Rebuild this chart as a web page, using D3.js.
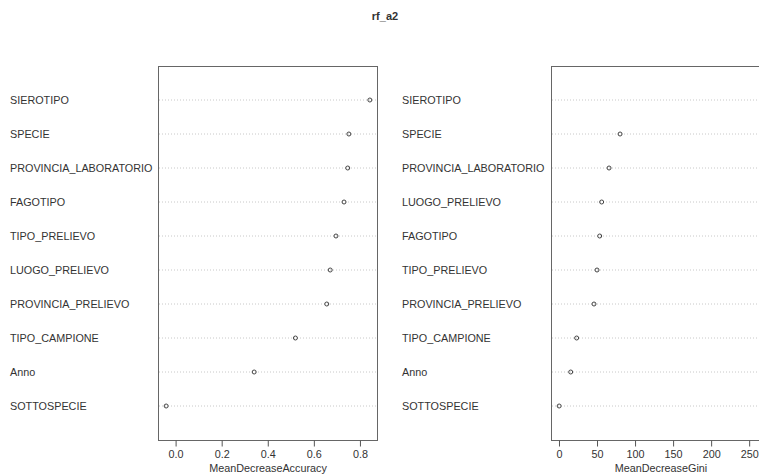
<!DOCTYPE html>
<html>
<head>
<meta charset="utf-8">
<script src="https://cdn.jsdelivr.net/npm/d3@7"></script>
<style>
  html, body { margin: 0; padding: 0; background: #fff; }
  svg { display: block; }
  text { font-family: "Liberation Sans", Arial, sans-serif; fill: #333; }
</style>
</head>
<body>
<svg id="chart" width="759" height="474"></svg>
<script>
// Variable importance from the random forest model rf_a2
const accuracyVars = ["SIEROTIPO", "SPECIE", "PROVINCIA_LABORATORIO", "FAGOTIPO", "TIPO_PRELIEVO",
  "LUOGO_PRELIEVO", "PROVINCIA_PRELIEVO", "TIPO_CAMPIONE", "Anno", "SOTTOSPECIE"];
const accuracyValues = [0.843, 0.752, 0.747, 0.731, 0.696, 0.671, 0.656, 0.520, 0.341, -0.041];

const giniVars = ["SIEROTIPO", "SPECIE", "PROVINCIA_LABORATORIO", "LUOGO_PRELIEVO", "FAGOTIPO",
  "TIPO_PRELIEVO", "PROVINCIA_PRELIEVO", "TIPO_CAMPIONE", "Anno", "SOTTOSPECIE"];
const giniValues = [268, 80.3, 65.8, 56.1, 53.5, 50.0, 46.0, 23.2, 15.4, 0.2];

const accuracyTicks = [0.0, 0.2, 0.4, 0.6, 0.8];
const giniTicks = [0, 50, 100, 150, 200, 250];

const title = "rf_a2";
const fontSize = 10.8;

const svg = d3.select("#chart");

svg.append("text")
  .attr("x", 385).attr("y", 20)
  .attr("text-anchor", "middle")
  .attr("font-size", 11).attr("font-weight", "bold")
  .text(title);

function dotPanel(cfg) {
  const { vars, values, ticks, fmt, axisTitle, labelX, left, right } = cfg;
  const top = 66, bottom = 440;
  const n = vars.length;
  // rows placed as in a dotchart: 1..n inside 0..n+1, first item at the top
  const y = d3.scaleLinear().domain([0, n + 1]).range([bottom, top]);
  const lo = d3.min(values), hi = d3.max(values), pad = (hi - lo) * 0.04;
  const x = d3.scaleLinear().domain([lo - pad, hi + pad]).range([left, right]);

  const g = svg.append("g");

  // dotted guide lines
  g.selectAll("line.guide").data(values).join("line")
    .attr("class", "guide")
    .attr("x1", left + 1).attr("x2", right - 1)
    .attr("y1", (d, i) => y(n - i)).attr("y2", (d, i) => y(n - i))
    .attr("stroke", "#c8c8c8").attr("stroke-width", 1)
    .attr("stroke-dasharray", "1,2");

  // row labels
  g.selectAll("text.lab").data(vars).join("text")
    .attr("class", "lab")
    .attr("x", labelX)
    .attr("y", (d, i) => y(n - i))
    .attr("dy", "0.35em")
    .attr("font-size", fontSize)
    .text(d => d);

  // points
  g.selectAll("circle").data(values).join("circle")
    .attr("cx", d => x(d))
    .attr("cy", (d, i) => y(n - i))
    .attr("r", 2)
    .attr("fill", "none").attr("stroke", "#444").attr("stroke-width", 1);

  // frame
  g.append("rect")
    .attr("x", left + 0.5).attr("y", top + 0.5)
    .attr("width", right - left - 1).attr("height", bottom - top)
    .attr("fill", "none").attr("stroke", "#666").attr("stroke-width", 1);

  // x axis
  const axis = d3.axisBottom(x).tickValues(ticks).tickFormat(fmt).tickSize(6).tickPadding(4);
  const ag = g.append("g").attr("transform", `translate(0,${bottom + 0.5})`).call(axis);
  ag.select(".domain").attr("stroke", "none");
  ag.selectAll(".tick line").attr("stroke", "#555");
  ag.selectAll(".tick text")
    .attr("font-family", "Liberation Sans, Arial, sans-serif")
    .attr("font-size", fontSize).attr("fill", "#333");

  g.append("text")
    .attr("x", (left + right) / 2).attr("y", 472)
    .attr("text-anchor", "middle").attr("font-size", fontSize)
    .text(axisTitle);
}

dotPanel({
  vars: accuracyVars, values: accuracyValues, ticks: accuracyTicks,
  fmt: d3.format(".1f"), axisTitle: "MeanDecreaseAccuracy",
  labelX: 10, left: 158, right: 378
});

dotPanel({
  vars: giniVars, values: giniValues, ticks: giniTicks,
  fmt: d3.format("d"), axisTitle: "MeanDecreaseGini",
  labelX: 402, left: 551, right: 771
});
</script>
</body>
</html>
